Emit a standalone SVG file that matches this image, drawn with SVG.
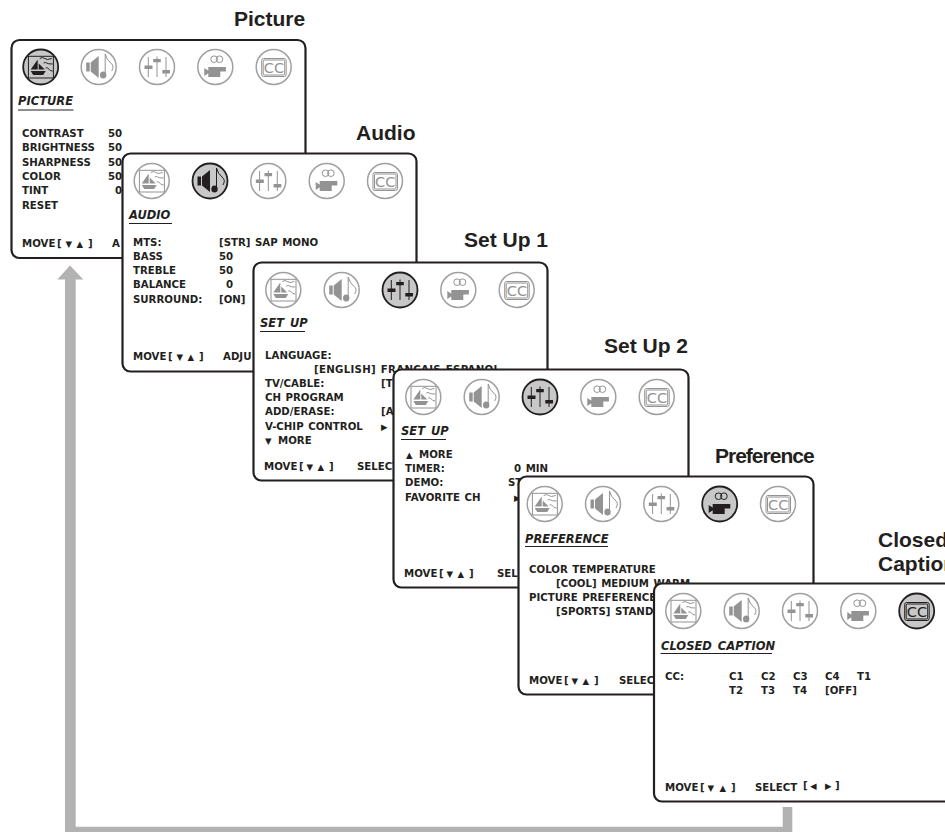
<svg xmlns="http://www.w3.org/2000/svg" width="945" height="832" viewBox="0 0 945 832">
<style>
.p{fill:#fff;stroke:#231f20;stroke-width:2.2}
.t{font:bold 10.2px "DejaVu Sans",Verdana,sans-serif;fill:#231f20;word-spacing:1px}
.h{font:italic bold 11.5px "DejaVu Sans",Verdana,sans-serif;fill:#231f20;word-spacing:2px}
.u{stroke:#231f20;stroke-width:1;fill:none}
.l{font:bold 21px "Liberation Sans",Arial,sans-serif;fill:#231f20}
.a{font-size:8.500px}
.off{color:#939393;--cf:#fff;--cs:#a0a0a0;--cw:1.5px}
.on{color:#231f20;--cf:#c8c8c8;--cs:#231f20;--cw:1.8px}
.c{fill:var(--cf);stroke:var(--cs);stroke-width:var(--cw)}
.s{fill:none;stroke:currentColor;stroke-width:1}
.f{fill:currentColor}
.cc{font:14.500px "DejaVu Sans",sans-serif;fill:currentColor}
</style>
<defs>
<g id="i1"><circle class="c" r="17.5"/><rect class="s" x="-12.300" y="-10.700" width="25" height="21.700"/><path class="f" d="M-3-7.500V2.500H-10ZM-2-3.500 4 2.500H-2ZM-10 4H5L2.500 8H-7.500Z"/><path class="s" d="M-1-8.500q3-2 5 0t7 0M3-4q2-1 3 0t6 1M5 1q2-1 3 1t4 2" stroke-width=".8"/></g>
<g id="i2"><circle class="c" r="17.5"/><path class="f" d="M-12.500-4.500H-9V4.500H-12.500ZM-8-4.500 0-11V11L-8 4.500Z"/><path class="s" d="M6.500 8V-13Q8-7 12-4T13 4" stroke-width="1.300"/><ellipse class="f" cx="4.500" cy="8" rx="3.200" ry="3.600"/></g>
<g id="i3"><circle class="c" r="17.5"/><path class="s" d="M-8.700-10V10M0-10.500V10M9-10V10" stroke-width="1.600"/><path class="f" d="M-12.500-1.500H-4.500V2H-12.500ZM-3.800-8H3.800V-4.700H-3.800ZM5.300 3H13V6.500H5.300Z"/></g>
<g id="i4"><circle class="c" r="17.5"/><circle class="s" cx="-1.200" cy="-7.800" r="3.300" stroke-width="1.600"/><circle class="s" cx="4.200" cy="-7.800" r="3.300" stroke-width="1.600"/><path class="f" d="M-7 0H10.600V4.500H5V10H-7ZM-11 1-5 5-11 9Z"/></g>
<g id="i5"><circle class="c" r="17.5"/><rect class="s" x="-12" y="-8.500" width="24.500" height="18" rx="2"/><rect class="s" x="-10.500" y="-7" width="21.500" height="15" rx="1" stroke-width=".6"/><text class="cc" x="0.200" y="5.800" text-anchor="middle">CC</text></g>
</defs>

<g id="connectors">
<path id="cycle-arrow" fill="#b2b2b2" d="M70 265.500 83.300 279.500H75.700V826.700H782.700V807H792.300V832H65V279.500H57.300Z"/>
</g>

<g id="node-picture">
<text class="l" x="234" y="26">Picture</text>
<rect class="p" x="11.500" y="40" width="294" height="218" rx="8"/>
<use href="#i1" class="on" x="40.700" y="67"/><use href="#i2" class="off" x="98.700" y="67"/><use href="#i3" class="off" x="157" y="67"/><use href="#i4" class="off" x="215.300" y="67"/><use href="#i5" class="off" x="273.700" y="67"/>
<text class="h" x="18" y="105">PICTURE</text><path class="u" d="M18 110H73.500"/>
<text class="t" x="22" y="137">CONTRAST</text><text class="t" x="108" y="137">50</text>
<text class="t" x="22" y="151">BRIGHTNESS</text><text class="t" x="108" y="151">50</text>
<text class="t" x="22" y="166">SHARPNESS</text><text class="t" x="108" y="166">50</text>
<text class="t" x="22" y="180">COLOR</text><text class="t" x="108" y="180">50</text>
<text class="t" x="22" y="194">TINT</text><text class="t" x="115" y="194">0</text>
<text class="t" x="22" y="209">RESET</text>
<text class="t" x="22" y="247">MOVE</text><text class="t" x="57" y="247">[</text><text class="t a" x="65.500" y="246.500">▼</text><text class="t a" x="76.500" y="246.500">▲</text><text class="t" x="88" y="247">]</text><text class="t" x="112" y="247">A</text>
</g>

<g id="node-audio">
<text class="l" x="356" y="140">Audio</text>
<rect class="p" x="122.500" y="153.500" width="294" height="218" rx="8"/>
<use href="#i1" class="off" x="151.700" y="181"/><use href="#i2" class="on" x="210" y="181"/><use href="#i3" class="off" x="268.300" y="181"/><use href="#i4" class="off" x="326.700" y="181"/><use href="#i5" class="off" x="385" y="181"/>
<text class="h" x="129" y="219">AUDIO</text><path class="u" d="M129 223.500H172"/>
<text class="t" x="133" y="246">MTS:</text><text class="t" x="219" y="246">[STR] SAP MONO</text>
<text class="t" x="133" y="260">BASS</text><text class="t" x="219" y="260">50</text>
<text class="t" x="133" y="274">TREBLE</text><text class="t" x="219" y="274">50</text>
<text class="t" x="133" y="288">BALANCE</text><text class="t" x="226" y="288">0</text>
<text class="t" x="133" y="303">SURROUND:</text><text class="t" x="219" y="303">[ON]</text>
<text class="t" x="133" y="360">MOVE</text><text class="t" x="168" y="360">[</text><text class="t a" x="176.500" y="359.500">▼</text><text class="t a" x="187.500" y="359.500">▲</text><text class="t" x="199" y="360">]</text><text class="t" x="223" y="360">ADJU</text>
</g>

<g id="node-setup1">
<text class="l" x="464" y="247">Set Up 1</text>
<rect class="p" x="253.500" y="262.500" width="294" height="218" rx="8"/>
<use href="#i1" class="off" x="283.300" y="290"/><use href="#i2" class="off" x="341.700" y="290"/><use href="#i3" class="on" x="400" y="290"/><use href="#i4" class="off" x="458.300" y="290"/><use href="#i5" class="off" x="516.700" y="290"/>
<text class="h" x="260" y="327">SET UP</text><path class="u" d="M260 331.500H305"/>
<text class="t" x="265" y="359">LANGUAGE:</text>
<text class="t" x="314" y="373" letter-spacing=".3">[ENGLISH] FRANCAIS ESPANOL</text>
<text class="t" x="265" y="387">TV/CABLE:</text><text class="t" x="381" y="387">[T</text>
<text class="t" x="265" y="401">CH PROGRAM</text>
<text class="t" x="265" y="415">ADD/ERASE:</text><text class="t" x="381" y="415">[A</text>
<text class="t" x="265" y="430">V-CHIP CONTROL</text><text class="t a" x="381" y="430">▶</text>
<text class="t a" x="265" y="444">▼</text><text class="t" x="278" y="444">MORE</text>
<text class="t" x="264" y="470">MOVE</text><text class="t" x="299" y="470">[</text><text class="t a" x="306.500" y="469.500">▼</text><text class="t a" x="317.500" y="469.500">▲</text><text class="t" x="329" y="470">]</text><text class="t" x="357" y="470">SELECT</text>
</g>

<g id="node-setup2">
<text class="l" x="604" y="353">Set Up 2</text>
<rect class="p" x="393.500" y="369.500" width="295" height="218" rx="8"/>
<use href="#i1" class="off" x="423.300" y="397"/><use href="#i2" class="off" x="481.700" y="397"/><use href="#i3" class="on" x="540" y="397"/><use href="#i4" class="off" x="598.300" y="397"/><use href="#i5" class="off" x="656.700" y="397"/>
<text class="h" x="401" y="435">SET UP</text><path class="u" d="M401 439.500H446"/>
<text class="t a" x="406" y="458">▲</text><text class="t" x="419" y="458">MORE</text>
<text class="t" x="405" y="472">TIMER:</text><text class="t" x="514" y="472">0 MIN</text>
<text class="t" x="405" y="486">DEMO:</text><text class="t" x="508" y="486">ST</text>
<text class="t" x="405" y="501">FAVORITE CH</text><text class="t a" x="514" y="501">▶</text>
<text class="t" x="404" y="577">MOVE</text><text class="t" x="439" y="577">[</text><text class="t a" x="446.500" y="576.500">▼</text><text class="t a" x="457.500" y="576.500">▲</text><text class="t" x="469" y="577">]</text><text class="t" x="497" y="577">SEL</text>
</g>

<g id="node-preference">
<text class="l" x="715" y="463" letter-spacing="-1">Preference</text>
<rect class="p" x="518.500" y="476.500" width="295" height="218" rx="8"/>
<use href="#i1" class="off" x="544.700" y="504"/><use href="#i2" class="off" x="603" y="504"/><use href="#i3" class="off" x="661.300" y="504"/><use href="#i4" class="on" x="719.700" y="504"/><use href="#i5" class="off" x="778" y="504"/>
<text class="h" x="525" y="543">PREFERENCE</text><path class="u" d="M525 546.500H608"/>
<text class="t" x="529" y="573">COLOR TEMPERATURE</text>
<text class="t" x="556" y="587">[COOL] MEDIUM WARM</text>
<text class="t" x="529" y="601">PICTURE PREFERENCE</text>
<text class="t" x="556" y="615">[SPORTS] STAND</text>
<text class="t" x="529" y="684">MOVE</text><text class="t" x="564" y="684">[</text><text class="t a" x="571.500" y="683.500">▼</text><text class="t a" x="582.500" y="683.500">▲</text><text class="t" x="594" y="684">]</text><text class="t" x="619" y="684">SELEC</text>
</g>

<g id="node-closed-caption">
<text class="l" x="878" y="547">Closed</text><text class="l" x="878" y="571">Caption</text>
<rect class="p" x="654" y="583.500" width="300" height="218" rx="8"/>
<use href="#i1" class="off" x="683.300" y="611"/><use href="#i2" class="off" x="741.700" y="611"/><use href="#i3" class="off" x="800" y="611"/><use href="#i4" class="off" x="858.300" y="611"/><use href="#i5" class="on" x="916.700" y="611"/>
<text class="h" x="661" y="650">CLOSED CAPTION</text><path class="u" d="M660.500 653.500H772"/>
<text class="t" x="665" y="680">CC:</text>
<text class="t" x="729" y="680">C1</text><text class="t" x="761" y="680">C2</text><text class="t" x="793" y="680">C3</text><text class="t" x="825" y="680">C4</text><text class="t" x="857" y="680">T1</text>
<text class="t" x="729" y="694">T2</text><text class="t" x="761" y="694">T3</text><text class="t" x="793" y="694">T4</text><text class="t" x="825" y="694">[OFF]</text>
<text class="t" x="665" y="791">MOVE</text><text class="t" x="700" y="791">[</text><text class="t a" x="707.500" y="790.500">▼</text><text class="t a" x="719.500" y="790.500">▲</text><text class="t" x="731" y="791">]</text><text class="t" x="755" y="791">SELECT</text><text class="t" x="803" y="789">[</text><text class="t a" x="810" y="789">◀</text><text class="t a" x="825" y="789">▶</text><text class="t" x="835" y="789">]</text>
</g>
</svg>
